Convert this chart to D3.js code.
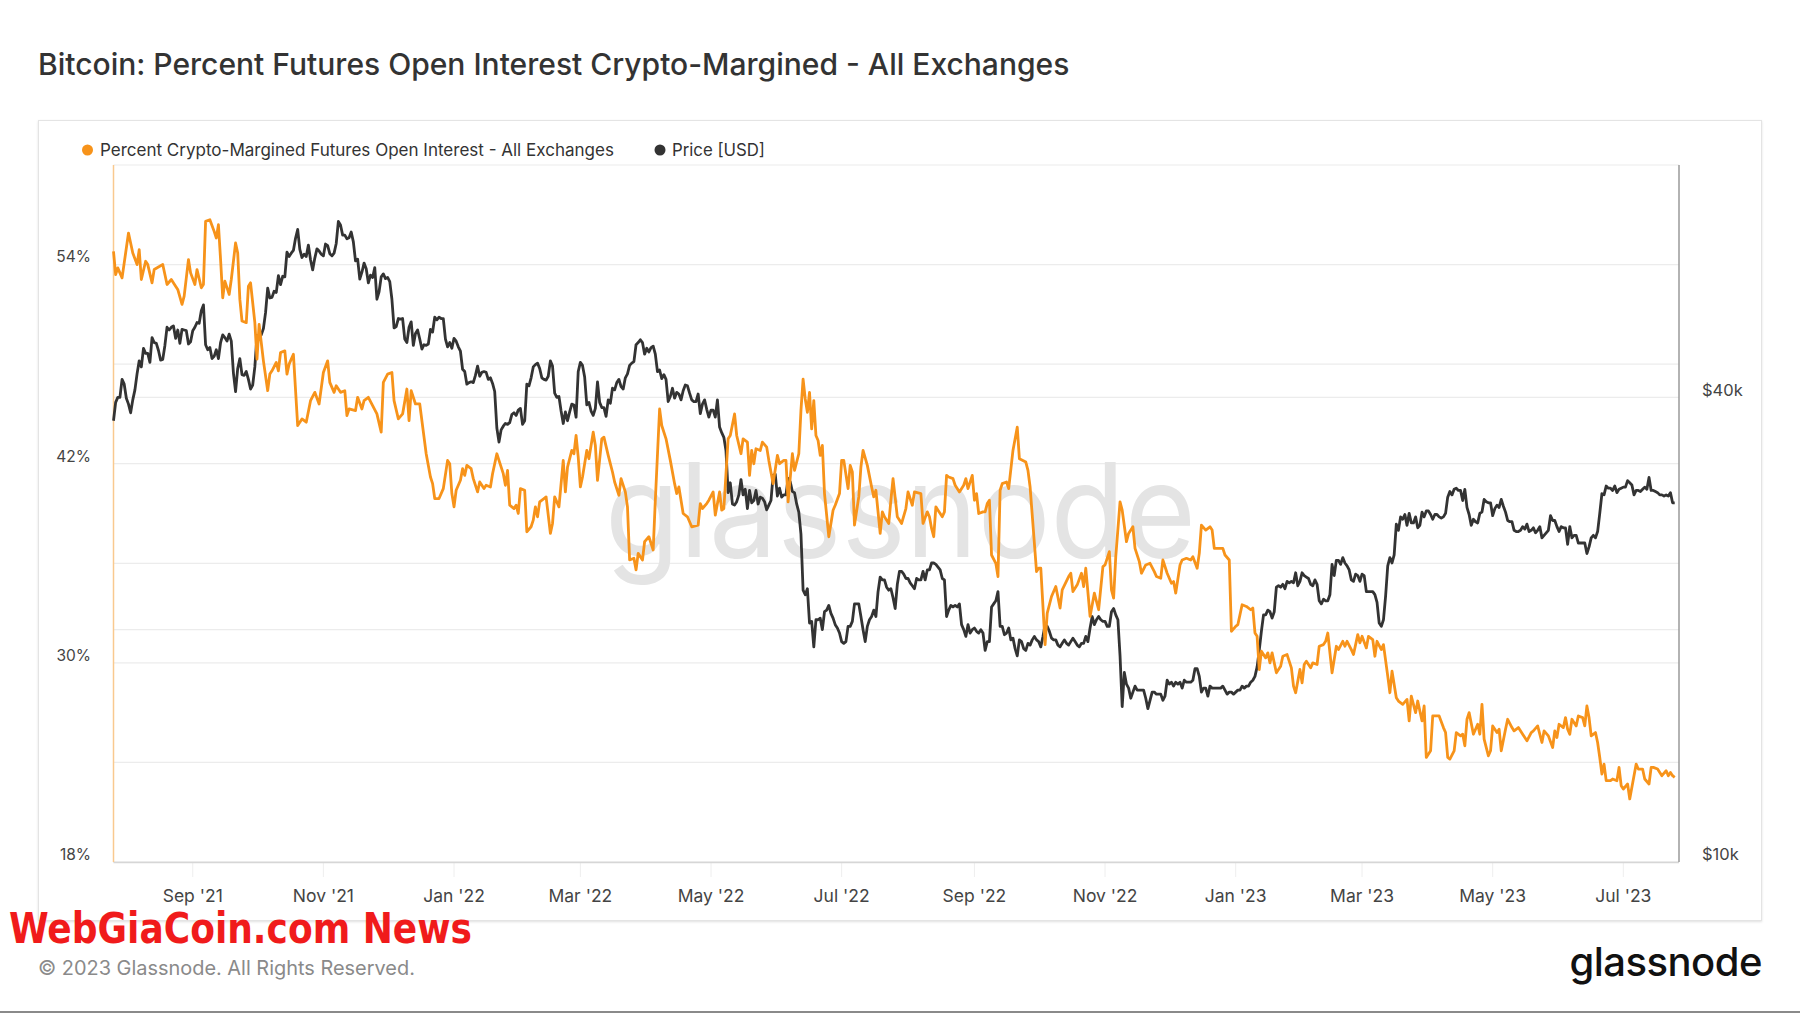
<!DOCTYPE html>
<html><head><meta charset="utf-8">
<script src="https://cdn.jsdelivr.net/npm/d3@7"></script>
<style>
html,body{margin:0;padding:0;background:#fff;}
svg{display:block;font-family:Inter,"Noto Sans",sans-serif;}
</style></head><body>
<svg id="chart" width="1800" height="1013"></svg>
<script>
// ---------------- DATA ----------------
const startDate = "2021-07-26";
const endDate = "2023-07-27";
// Daily BTC price [USD thousands], starting 2021-07-26
const priceK = [
37.3,39.4,40.0,40.0,42.2,41.6,
39.9,39.2,38.2,39.7,40.9,42.9,44.6,43.8,46.3,45.6,45.6,44.4,47.8,47.1,47.0,46.0,44.7,44.8,46.7,49.3,48.9,49.3,49.5,47.7,48.9,47.0,49.0,48.9,48.8,46.9,47.2,
48.8,49.3,50.0,49.9,51.8,52.7,46.8,46.1,46.4,44.9,45.2,46.1,44.9,47.1,48.2,47.8,47.3,48.3,47.3,43.0,40.7,43.6,44.9,42.8,42.7,43.2,42.2,41.0,41.5,43.8,
48.1,47.7,48.2,49.1,51.5,55.4,53.8,53.9,54.9,54.7,57.5,56.0,57.4,57.3,61.7,60.9,61.5,62.0,64.3,66.0,62.2,60.7,61.3,60.9,63.0,60.3,58.5,60.6,62.3,61.9,61.3,
61.0,63.2,62.9,61.4,61.0,61.5,63.3,67.6,66.9,64.9,64.9,64.2,64.4,65.5,63.6,60.1,60.4,56.9,58.1,59.7,58.7,56.3,57.6,57.2,58.9,53.6,54.8,57.3,57.8,57.0,
57.2,56.5,53.6,49.2,49.4,50.6,50.5,50.6,47.6,47.1,49.3,50.1,46.7,48.4,48.9,47.6,46.2,46.8,46.7,46.9,49.0,48.6,50.8,50.4,50.8,50.6,50.6,47.6,46.5,47.1,46.3,
47.7,47.3,46.5,45.9,43.5,43.2,41.6,41.8,41.9,41.8,42.7,43.9,42.6,43.1,43.2,43.1,42.2,42.4,41.7,40.7,36.5,35.0,36.3,36.7,37.0,36.9,37.1,38.0,38.2,37.9,38.5,
38.7,36.9,37.3,41.6,41.4,42.4,43.8,44.1,44.3,43.6,42.4,42.2,42.1,42.6,44.6,43.9,40.5,40.0,40.1,38.4,37.0,38.3,37.3,38.3,39.2,39.1,37.7,43.2,
44.4,44.0,42.5,39.1,39.4,38.4,37.9,38.7,41.9,39.4,38.8,38.8,37.8,39.7,39.3,41.1,40.9,41.8,42.2,41.3,41.0,42.4,42.9,44.0,44.3,44.5,46.8,47.1,47.5,47.1,45.5,
46.3,45.8,46.4,46.6,45.5,43.2,43.4,42.3,42.8,42.2,39.5,40.1,41.1,39.9,40.6,40.4,39.7,40.8,41.5,41.4,40.5,39.7,39.5,39.5,40.4,38.1,39.2,39.7,38.6,37.7,
38.5,38.5,37.7,39.7,36.6,36.0,35.5,34.1,30.1,31.0,29.1,29.0,29.3,29.9,31.3,29.9,30.4,28.7,30.3,29.2,29.4,30.3,29.1,29.7,29.6,29.3,28.6,29.0,29.4,31.7,31.8,
29.8,30.5,29.7,29.9,29.9,31.4,31.1,30.2,30.1,29.1,28.4,26.6,22.5,22.2,22.6,20.4,20.5,19.0,20.6,20.6,20.7,20.0,21.1,21.2,21.5,21.0,20.7,20.3,20.1,19.8,
19.3,19.2,19.3,20.2,20.2,20.5,21.6,21.6,21.6,20.8,20.0,19.3,20.2,20.6,20.8,21.2,20.8,22.4,23.4,23.2,23.2,22.7,22.5,22.6,22.0,21.3,22.9,23.8,23.8,23.6,23.3,
23.3,23.0,22.8,22.6,23.3,23.2,23.2,23.8,23.2,23.9,23.9,24.4,24.4,24.3,24.1,23.9,23.3,23.2,20.8,21.2,21.5,21.4,21.5,21.4,21.6,20.3,20.0,19.6,20.3,19.8,20.0,
20.1,19.9,19.8,20.0,19.8,18.8,19.3,19.3,21.4,21.6,21.8,22.4,20.2,20.2,19.7,19.8,20.1,19.4,19.5,18.9,18.5,19.4,19.3,18.9,18.8,19.2,19.1,19.4,19.6,19.4,
19.3,19.0,19.6,20.3,20.2,19.9,19.5,19.4,19.4,19.1,19.0,19.2,19.4,19.2,19.1,19.3,19.5,19.3,19.1,19.0,19.2,19.2,19.6,19.3,20.1,20.8,20.3,20.6,20.8,20.6,20.5,
20.5,20.2,20.2,21.1,21.3,20.9,20.6,18.5,15.9,17.6,17.0,16.8,16.3,16.6,16.9,16.7,16.7,16.7,16.7,16.3,15.8,16.2,16.6,16.6,16.5,16.5,16.5,16.2,16.4,17.2,
17.0,17.1,16.9,17.1,17.0,17.1,16.8,17.2,17.1,17.1,17.1,17.2,17.8,17.8,17.4,16.6,16.8,16.8,16.4,16.9,16.8,16.8,16.8,16.8,16.8,16.9,16.7,16.5,16.6,16.6,16.5,
16.6,16.7,16.7,16.9,16.8,16.9,16.9,17.1,17.2,17.4,17.9,18.8,19.9,20.9,20.9,21.2,21.1,20.7,21.1,22.7,22.8,22.7,22.9,22.6,23.1,23.0,23.1,23.0,23.7,22.8,23.1,
23.7,23.5,23.4,23.3,22.9,22.8,23.2,22.9,21.8,21.6,21.9,21.8,21.8,22.2,24.3,23.5,24.6,24.6,24.3,24.8,24.4,24.2,23.9,23.2,23.1,23.6,23.5,23.1,
23.6,23.5,22.4,22.4,22.4,22.4,22.2,21.7,20.4,20.2,20.6,22.1,24.2,24.8,24.4,25.0,27.4,26.9,28.0,27.8,28.2,27.3,28.3,27.5,27.5,28.0,27.1,27.3,28.4,28.0,28.5,
28.5,28.2,27.8,28.2,28.2,28.0,27.9,28.0,28.3,29.7,30.2,29.9,30.4,30.5,30.3,30.3,29.4,30.4,28.8,28.2,27.3,27.8,27.6,27.5,28.3,28.4,29.5,29.3,29.2,29.2,
28.1,28.7,29.0,28.8,29.5,28.9,28.4,27.7,27.6,27.6,26.9,26.8,26.8,26.9,27.2,27.0,27.4,26.8,26.9,27.1,26.7,26.9,27.2,26.3,26.5,26.7,26.9,28.1,27.7,27.7,27.2,
26.8,27.2,27.1,27.1,25.8,27.2,26.3,26.5,26.5,25.9,25.9,25.9,25.9,25.1,25.6,26.3,26.5,26.3,26.8,28.3,30.0,29.9,30.7,30.5,30.5,30.3,30.7,30.1,30.4,30.5,
30.6,30.6,31.2,31.0,30.8,29.9,30.3,30.3,30.2,30.4,30.6,30.4,31.5,30.3,30.3,30.2,30.1,29.9,29.9,29.8,29.9,29.8,30.1,29.2,29.2
];
// Percent crypto-margined futures OI: [days since startDate, percent]
const oiPoints = [
[0,54.8],[1,53.4],[2,53.8],[4,53.2],[7,55.9],[9,54.7],[11,54.0],[12,54.9],[13,53.1],[15,54.2],[16,54.0],[18,52.9],[19,53.7],[23,54.0],[25,52.8],[27,53.1],[29,52.7],[30,52.5],[32,51.6],[33,52.1],[35,54.3],[36,53.5],[38,52.8],[39,53.7],[41,52.6],[42,52.8],[43,56.6],[45,56.7],[47,56.0],[48,55.6],[49,56.4],[50,54.3],[51,52.0],[52,53.0],[54,52.2],[55,53.1],[57,55.3],[58,54.7],[59,51.9],[60,50.6],[62,50.5],[63,52.7],[64,52.9],[66,50.5],[67,48.3],[68,50.4],[70,48.2],[72,46.4],[73,47.4],[74,47.6],[76,48.1],[77,47.6],[78,48.7],[80,48.8],[81,47.4],[82,48.0],[84,48.6],[86,44.3],[88,44.7],[90,44.5],[92,45.8],[94,46.3],[96,45.6],[98,47.5],[100,48.2],[101,46.9],[103,46.3],[104,46.7],[106,46.3],[108,46.4],[109,44.9],[110,45.3],[113,45.2],[114,46.0],[116,45.3],[117,45.8],[119,46.0],[121,45.5],[123,45.0],[125,43.9],[126,46.9],[128,47.4],[130,47.5],[131,45.8],[133,44.7],[135,45.0],[137,46.5],[138,44.6],[139,46.4],[141,45.6],[143,45.6],[145,43.6],
[146,42.6],[148,41.2],[149,40.8],[150,39.9],[152,39.9],[154,40.5],[156,42.2],[157,42.0],[158,40.2],[159,39.4],[160,40.4],[162,41.0],[163,41.7],[164,41.3],[165,41.9],[167,41.7],[168,41.1],[170,40.3],[171,40.9],[173,40.5],[174,40.7],[176,40.6],[177,41.4],[179,42.6],[180,42.2],[182,41.4],[183,40.7],[184,41.6],[185,39.5],[187,39.3],[188,39.5],[189,39.0],[190,40.5],[192,40.4],[193,37.9],[195,38.2],[196,38.6],[197,39.4],[198,38.8],[199,39.7],[201,39.9],[202,40.0],[204,37.8],[205,38.4],[206,40.0],[208,39.4],[210,42.2],[211,40.3],[212,41.8],[214,42.8],[215,42.6],[216,43.7],[217,42.4],[218,40.6],[219,41.2],[221,42.8],[222,42.3],[224,43.9],[225,43.1],[226,41.0],[228,43.5],[229,43.6],[231,42.5],[233,41.5],[234,40.9],[236,40.1],[237,41.1],[239,40.3],[240,39.4],[241,36.2],[243,36.3],[244,35.6],[245,36.6],[247,36.2],[248,37.3],[250,37.6],[252,36.8],[253,39.8],[255,45.3],[256,44.3],[258,43.5],[260,42.2],[262,40.8],[263,40.2],[264,40.6],[266,39.0],[268,38.8],[270,38.2],[273,38.3],[274,39.6],[275,39.3],[277,39.6],[278,39.8],[280,40.3],[281,38.9],[283,40.3],[284,39.2],[285,39.3],[287,43.5],[288,43.7],[290,45.0],[291,43.7],
[293,42.6],[294,43.5],[296,43.3],[297,41.3],[298,42.8],[299,42.0],[300,42.9],[302,42.8],[303,43.3],[305,43.0],[306,42.2],[308,40.8],[310,42.5],[311,42.0],[313,42.2],[314,42.2],[315,39.7],[317,42.6],[318,41.6],[320,42.6],[321,45.2],[322,47.1],[323,45.9],[324,45.1],[325,46.3],[326,44.1],[327,45.8],[328,43.7],[329,43.4],[330,42.5],[331,43.1],[332,40.2],[334,37.6],[336,39.2],[337,39.5],[339,40.2],[340,42.2],[341,42.2],[343,40.5],[344,41.9],[345,41.5],[346,38.3],[348,40.0],[349,41.8],[350,42.8],[352,41.9],[354,40.6],[355,40.0],[356,40.4],[358,37.8],[359,39.1],[360,38.8],[362,38.4],[363,39.8],[364,41.1],[366,38.8],[368,38.4],[370,39.3],[371,40.3],[373,39.5],[374,40.3],[377,40.2],[378,38.4],[380,39.1],[381,38.8],[382,38.1],[383,37.6],[384,39.4],[385,39.2],[387,38.8],[388,39.1],[389,41.3],[390,41.2],[392,41.1],[393,40.7],[395,40.3],[397,40.7],[398,41.1],[399,40.5],[401,41.3],[402,39.8],[403,40.2],[404,39.0],[406,39.1],[407,39.1],[408,39.6],[409,39.8],[410,36.5],[412,36.0],[413,35.2],[414,40.4],[415,40.8],[417,40.9],[418,40.5],[420,42.8],[422,44.2],[423,42.3],[426,42.1],[427,41.6],[428,40.6],[429,38.9],[431,35.5],[432,35.7],[433,35.7],[434,33.4],[435,31.1],[436,33.0],[438,34.0],[440,34.6],[442,33.3],[443,34.4],[446,35.2],[447,35.4],[448,34.3],[450,34.7],[452,35.4],[453,34.6],[454,35.7],[456,32.8],[458,34.2],[460,33.2],
[462,35.8],[463,35.9],[465,36.7],[466,34.4],[467,33.9],[468,36.4],[470,39.7],[471,39.2],[473,37.3],[474,37.8],[476,38.2],[477,36.9],[479,36.1],[480,35.4],[482,35.9],[484,36.0],[486,35.5],[487,35.2],[489,35.1],[490,36.2],[492,35.4],[494,34.8],[495,34.9],[496,34.2],[498,35.9],[499,36.2],[501,36.3],[503,36.2],[504,36.4],[506,35.7],[507,36.6],[508,38.3],[510,38.0],[512,38.2],[513,38.0],[514,36.9],[516,36.9],[518,36.9],[519,36.5],[521,36.2],[522,31.9],[524,32.2],[525,32.3],[527,33.5],[529,33.4],[531,33.2],[532,33.3],[533,31.8],[534,31.6],[535,29.6],[536,30.7],[538,30.3],[539,30.6],[540,30.0],[541,30.6],[543,29.4],[545,29.8],[546,30.4],[548,30.5],[550,29.7],[551,28.6],[552,28.2],[554,29.6],[555,28.8],[556,29.9],[557,30.1],[559,29.7],[560,30.0],[562,29.9],[563,31.0],[565,31.1],[566,31.3],[567,31.8],[568,30.6],[569,29.4],[571,31.0],[572,30.8],[574,31.3],[575,31.0],[576,31.3],[578,30.8],[579,30.5],[581,31.7],[582,31.2],[583,31.6],[585,30.9],[586,31.6],[588,31.4],[589,30.4],[590,31.3],[592,30.8],[593,31.1],[595,29.2],[596,28.2],[597,29.5],[599,27.9],[600,27.7],[602,27.5],
[604,27.8],[605,26.5],[606,28.0],[608,27.0],[609,27.7],[611,26.5],[612,27.4],[613,24.3],[615,24.7],[616,26.8],[618,26.8],[619,26.8],[621,26.1],[622,25.8],[623,24.3],[624,24.2],[626,24.7],[627,25.8],[629,25.6],[630,25.7],[631,25.0],[632,26.6],[633,27.0],[635,25.7],[637,26.3],[638,25.7],[639,27.5],[640,25.4],[642,24.4],[643,24.7],[644,26.2],[646,25.8],[647,26.0],[648,24.7],[650,26.0],[651,26.6],[653,26.1],[654,25.9],[656,26.1],[658,25.7],[660,25.3],[662,25.8],[663,25.9],[665,26.2],[667,25.2],[668,25.9],[670,25.6],[672,24.9],[673,25.9],[674,25.5],[675,26.3],[677,26.1],[678,26.7],[679,26.0],[680,25.7],[681,26.6],[683,26.2],[684,26.8],[686,26.7],[687,26.2],[688,27.4],[689,26.7],[690,25.6],[692,25.8],[693,25.2],[694,24.3],[695,23.3],[696,23.9],[697,22.9],[699,22.9],[700,23.0],[702,22.9],[703,23.7],[704,22.6],[705,22.4],[707,22.7],[708,21.8],[709,22.5],[711,23.9],[712,23.6],[714,23.6],[715,23.0],[717,22.7],[718,23.7],[719,23.7],[721,23.6],[723,23.2],[725,23.5],[726,23.2],[727,23.4],[728,23.2],[729,23.1]
];
const leftGridValues = [18,24,30,36,42,48,54,60];
const leftLabelValues = [18,30,42,54];
const rightGridValues = [10000,20000,40000];
const rightLabelValues = [10000,40000];
const rightLabelText = ["$10k","$40k"];
const xTickDates = ["2021-09-01","2021-11-01","2022-01-01","2022-03-01","2022-05-01","2022-07-01","2022-09-01","2022-11-01","2023-01-01","2023-03-01","2023-05-01","2023-07-01"];
const xTickLabels = ["Sep '21","Nov '21","Jan '22","Mar '22","May '22","Jul '22","Sep '22","Nov '22","Jan '23","Mar '23","May '23","Jul '23"];
const seriesNames = ["Percent Crypto-Margined Futures Open Interest - All Exchanges","Price [USD]"];
const titleText = "Bitcoin: Percent Futures Open Interest Crypto-Margined - All Exchanges";

// ---------------- LAYOUT ----------------
const W = 1800, H = 1013;
const P = {left:113.5, right:1679, top:165, bottom:862};
const ORANGE = "#f7931a", DARK = "#333333";

const svg = d3.select("#chart");
const parse = d3.utcParse("%Y-%m-%d");
const t0 = parse(startDate);

const x = d3.scaleUtc().domain([t0, parse(endDate)]).range([P.left, P.right]);
const yL = d3.scaleLinear().domain([18,60]).range([P.bottom, P.top]);
const yR = d3.scaleLog().domain([10000,80000]).range([P.bottom, P.top]);

// fit a text element's font size so its width matches a target
function fitWidth(sel, target){
  const fs = +sel.attr("font-size");
  const w = sel.node().getComputedTextLength();
  if (w > 0) sel.attr("font-size", (fs * target / w).toFixed(2));
  return sel;
}

const defs = svg.append("defs");
const f = defs.append("filter").attr("id","sh").attr("x","-5%").attr("y","-5%").attr("width","110%").attr("height","110%");
f.append("feDropShadow").attr("dx",0).attr("dy",1).attr("stdDeviation",1.2).attr("flood-color","#000").attr("flood-opacity",0.12);

svg.append("rect").attr("width",W).attr("height",H).attr("fill","#fff");

// title
fitWidth(svg.append("text").attr("x",38).attr("y",75).attr("font-size",26).attr("font-weight",500)
  .attr("fill","#333").text(titleText), 1032);

// panel
svg.append("rect").attr("x",38.5).attr("y",120.5).attr("width",1723).attr("height",800)
  .attr("fill","#fff").attr("stroke","#e4e4e4").attr("stroke-width",1).attr("filter","url(#sh)");

// legend
const lg = svg.append("g").attr("fill","#333");
lg.append("circle").attr("cx",87.5).attr("cy",150).attr("r",5.5).attr("fill",ORANGE);
fitWidth(lg.append("text").attr("x",100).attr("y",156).attr("font-size",16).text(seriesNames[0]), 514);
lg.append("circle").attr("cx",660).attr("cy",150).attr("r",5.5).attr("fill",DARK);
fitWidth(lg.append("text").attr("x",672).attr("y",156).attr("font-size",16).text(seriesNames[1]), 93);

// grid
const grid = svg.append("g");
grid.selectAll("line.gl").data(leftGridValues).join("line")
  .attr("x1",P.left).attr("x2",P.right).attr("y1",d=>yL(d)).attr("y2",d=>yL(d))
  .attr("stroke","#ececec").attr("stroke-width",1.2);
grid.selectAll("line.gr").data(rightGridValues).join("line")
  .attr("x1",P.left).attr("x2",P.right).attr("y1",d=>yR(d)).attr("y2",d=>yR(d))
  .attr("stroke","#ececec").attr("stroke-width",1.2);

// x ticks
const xt = xTickDates.map(parse);
svg.append("g").selectAll("line").data(xt).join("line")
  .attr("x1",d=>x(d)).attr("x2",d=>x(d)).attr("y1",P.bottom).attr("y2",P.bottom+15)
  .attr("stroke","#eeeeee").attr("stroke-width",1);

// watermark
svg.append("text").attr("x",605).attr("y",557).attr("font-size",130).attr("font-weight",400)
  .attr("fill","#e4e4e4").attr("textLength",591).attr("lengthAdjust","spacingAndGlyphs").text("glassnode");

// axis lines
svg.append("line").attr("x1",P.left).attr("x2",P.right).attr("y1",P.bottom+0.5).attr("y2",P.bottom+0.5)
  .attr("stroke","#d6d6d6").attr("stroke-width",1.5);
svg.append("line").attr("x1",P.left).attr("x2",P.left).attr("y1",P.top).attr("y2",P.bottom)
  .attr("stroke","#f9c98f").attr("stroke-width",1.5);
svg.append("line").attr("x1",P.right).attr("x2",P.right).attr("y1",P.top).attr("y2",P.bottom)
  .attr("stroke","#9a9a9a").attr("stroke-width",1.5);

// axis labels
svg.append("g").selectAll("text").data(leftLabelValues).join("text")
  .attr("x",91).attr("y",d=>yL(d)-7.5).attr("dy","0.35em").attr("text-anchor","end")
  .attr("font-size",15.5).attr("fill","#444").text(d=>d+"%");
svg.append("g").selectAll("text").data(rightLabelValues).join("text")
  .attr("x",1702).attr("y",d=>yR(d)-7.5).attr("dy","0.35em").attr("text-anchor","start")
  .attr("font-size",16.5).attr("fill","#444").text((d,i)=>rightLabelText[i]);
svg.append("g").selectAll("text").data(xt).join("text")
  .attr("x",d=>x(d)).attr("y",896).attr("dy","0.35em").attr("text-anchor","middle")
  .attr("font-size",17.5).attr("fill","#444").text((d,i)=>xTickLabels[i]);

// lines
const priceLine = d3.line()
  .x((d,i)=>x(d3.utcDay.offset(t0,i)))
  .y(d=>yR(d*1000));
svg.append("path").datum(priceK).attr("d",priceLine)
  .attr("fill","none").attr("stroke",DARK).attr("stroke-width",2.8).attr("stroke-linejoin","round");

const oiLine = d3.line()
  .x(d=>x(d3.utcDay.offset(t0,d[0])))
  .y(d=>yL(d[1]));
svg.append("path").datum(oiPoints).attr("d",oiLine)
  .attr("fill","none").attr("stroke",ORANGE).attr("stroke-width",2.8).attr("stroke-linejoin","round");

// footer
svg.append("text").attr("x",9).attr("y",943).attr("font-family","'Liberation Sans Narrow','DejaVu Sans Condensed',sans-serif")
  .attr("font-weight",700).attr("font-size",43).attr("fill","#f01b1b")
  .attr("textLength",463).attr("lengthAdjust","spacingAndGlyphs").text("WebGiaCoin.com News");
fitWidth(svg.append("text").attr("x",38).attr("y",975).attr("font-size",19).attr("fill","#8a8a8a")
  .text("© 2023 Glassnode. All Rights Reserved."), 377);
svg.append("text").attr("x",1762).attr("y",976).attr("text-anchor","end").attr("font-size",40)
  .attr("font-weight",500).attr("fill","#111").attr("letter-spacing",-0.5).text("glassnode");

svg.append("rect").attr("x",0).attr("y",1011).attr("width",W).attr("height",2).attr("fill","#8a8a8a");
</script>
</body></html>
